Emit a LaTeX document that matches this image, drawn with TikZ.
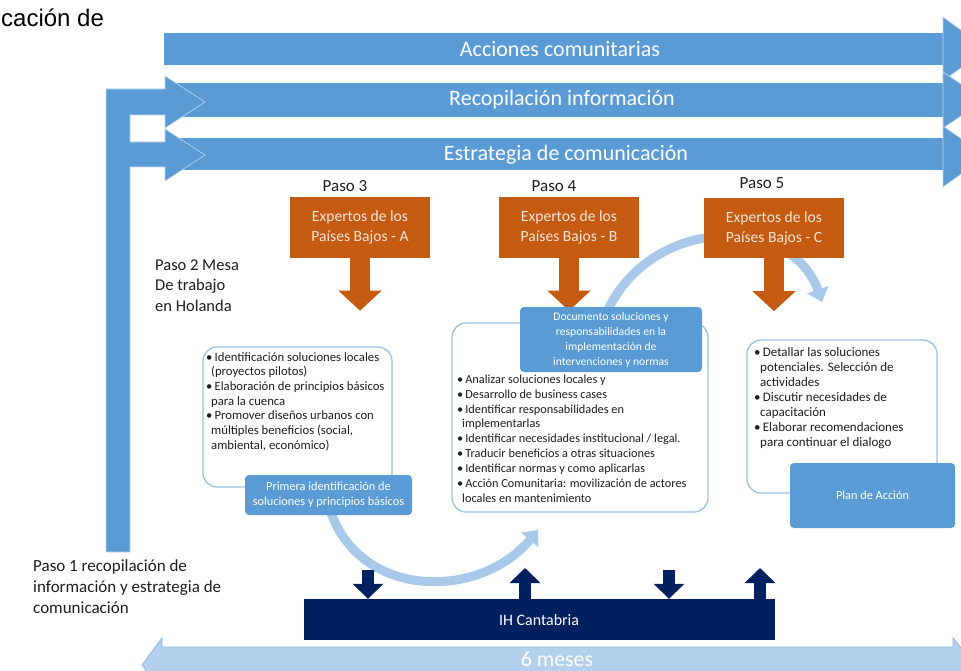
\documentclass[tikz,border=0pt]{standalone}
\usepackage{fontspec}
\setmainfont{Carlito}
\newfontfamily\helv{Liberation Sans}
\usetikzlibrary{arrows.meta}
\definecolor{band}{HTML}{5B9BD5}
\definecolor{orng}{HTML}{C55A11}
\definecolor{navy}{HTML}{002060}
\definecolor{lblue}{HTML}{A9C9EA}
\definecolor{edge}{HTML}{9DC3E6}
\definecolor{txt}{HTML}{1E1E1E}
\definecolor{mes}{HTML}{B4D0EC}
\begin{document}
\begin{tikzpicture}[x=1pt,y=-1pt,
  bandtext/.style={text=white,font=\fontsize{22}{25}\selectfont},
  rbox/.style={draw=edge,line width=1.3pt,fill=white,rounded corners=14pt,inner sep=0pt},
  lbox/.style={fill=band,rounded corners=4pt,text=white,align=center,inner sep=0pt},
  expbox/.style={fill=orng,text=white!85!orng,align=center,inner sep=0pt,minimum width=140pt,minimum height=60pt,font=\fontsize{15.6}{20}\selectfont},
  pasotext/.style={text=txt,font=\fontsize{17}{20}\selectfont},
  oarrow/.style={draw=orng,line width=20pt,-{Triangle[width=42pt,length=20pt]}},
  narrow/.style={draw=navy,line width=12pt,-{Triangle[width=30pt,length=15pt]}},
  curvearrow/.style={draw=lblue,line width=9pt,-{Triangle[width=22pt,length=13pt]}},
  bullets/.style={anchor=north west,align=left,inner sep=0pt,text=txt}]
\useasboundingbox (0,0) rectangle (961,671);
\fill[white] (0,0) rectangle (961,671);

% top cut-off text
\node[anchor=base west,inner sep=0pt,font=\helv\fontsize{24}{28}\selectfont] (cut) at (1,27) {cación de};

% bands
\fill[band] (164,33) rectangle (943,65);
\fill[band] (165,83) rectangle (943,117);
\fill[band] (165,138) rectangle (943,170);
\filldraw[band,draw=white!60!band,line width=0.7pt] (943,17) -- (987,49) -- (943,81) -- cycle;
\filldraw[band,draw=white!60!band,line width=0.7pt] (943,72) -- (985,100) -- (943,128) -- cycle;
\filldraw[band,draw=white!60!band,line width=0.7pt] (943,126) -- (986,156) -- (943,187) -- cycle;
% L-shaped feed arrow
\filldraw[band,draw=white!60!band,line width=0.6pt] (106,552) -- (106,89) -- (165,89) -- (165,76) -- (205,102) -- (165,128) -- (165,115) -- (130,115) -- (130,142) -- (165,142) -- (165,129) -- (205,155) -- (165,181) -- (165,167) -- (130,167) -- (130,552) -- cycle;
\node[bandtext] (b1t) at (560,49) {Acciones comunitarias};
\node[bandtext] (b2t) at (562,100) {Recopilación información};
\node[bandtext] (b3t) at (566,155) {Estrategia de comunicación};

% curved arrows (behind boxes)
\draw[curvearrow] (330,510) .. controls (360,600) and (480,600) .. (538,530);
\draw[curvearrow] (600,330) .. controls (635,215) and (790,210) .. (822,302);

% step labels
\node[pasotext] (p3) at (345,186) {Paso 3};
\node[pasotext] (p4) at (554,186) {Paso 4};
\node[pasotext] (p5) at (762,183) {Paso 5};
\node[anchor=north west,align=left,inner sep=0pt,text=txt,font=\fontsize{16.5}{20.5}\selectfont] (p2) at (155,259.5) {Paso 2 Mesa\\De trabajo\\en Holanda};
\node[anchor=north west,align=left,inner sep=0pt,text=txt,font=\fontsize{17}{21}\selectfont] (p1) at (33,559) {Paso 1 recopilación de\\información y estrategia de\\comunicación};

% rounded content boxes
\node[rbox,minimum width=189pt,minimum height=140pt] (box1) at (297.5,417) {};
\node[rbox,minimum width=256pt,minimum height=189pt] (box2) at (580,417.5) {};
\node[rbox,minimum width=190pt,minimum height=153pt] (box3) at (842,416.5) {};

\node[bullets,font=\fontsize{12.7}{14.7}\selectfont] (t1) at (206,352) {%
\textbullet\,Identificación soluciones locales\\
\hspace*{5pt}(proyectos pilotos)\\
\textbullet\,Elaboración de principios básicos\\
\hspace*{5pt}para la cuenca\\
\textbullet\,Promover diseños urbanos con\\
\hspace*{5pt}múltiples beneficios (social,\\
\hspace*{5pt}ambiental, económico)};

\node[bullets,font=\fontsize{12.3}{14.9}\selectfont] (t2) at (457,374.5) {%
\textbullet\,Analizar soluciones locales y\\
\textbullet\,Desarrollo de business cases\\
\textbullet\,Identificar responsabilidades en\\
\hspace*{5pt}implementarlas\\
\textbullet\,Identificar necesidades institucional / legal.\\
\textbullet\,Traducir beneficios a otras situaciones\\
\textbullet\,Identificar normas y como aplicarlas\\
\textbullet\,Acción Comunitaria: movilización de actores\\
\hspace*{5pt}locales en mantenimiento};

\node[bullets,font=\fontsize{13}{15}\selectfont] (t3) at (754,347) {%
\textbullet\,Detallar las soluciones\\
\hspace*{6pt}potenciales. Selección de\\
\hspace*{6pt}actividades\\
\textbullet\,Discutir necesidades de\\
\hspace*{6pt}capacitación\\
\textbullet\,Elaborar recomendaciones\\
\hspace*{6pt}para continuar el dialogo};

% expert boxes and arrows
\node[expbox] (A) at (360,227.5) {Expertos de los\\Países Bajos - A};
\node[expbox] (B) at (569,227.5) {Expertos de los\\Países Bajos - B};
\node[expbox] (C) at (774,228) {Expertos de los\\Países Bajos - C};
\draw[oarrow] (A.south) -- ++(0,53);
\draw[oarrow] (B.south) -- ++(0,53);
\draw[oarrow] (C.south) -- ++(0,53);

% label boxes
\node[lbox,minimum width=167pt,minimum height=40pt,font=\fontsize{12.3}{15}\selectfont] (prim) at (328.5,495) {Primera identificación de\\soluciones y principios básicos};
\node[lbox,minimum width=182pt,minimum height=65pt,font=\fontsize{11.6}{15}\selectfont] (doc) at (611,339.5) {Documento soluciones y\\responsabilidades en la\\implementación de\\intervenciones y normas};
\node[lbox,minimum width=165pt,minimum height=65pt,font=\fontsize{12.3}{15}\selectfont] (plan) at (872.5,495.5) {Plan de Acción};

% IH Cantabria
\node[fill=navy,minimum width=471pt,minimum height=41pt,inner sep=0pt] (IH) at (539.5,619.5) {};
\node[anchor=west,inner sep=0pt,text=white,font=\fontsize{15.9}{18}\selectfont] (IHt) at (499,620) {IH Cantabria};
\draw[narrow] (368,570) -- (368,0 |- IH.north);
\draw[narrow] (525,0 |- IH.north) -- (525,568);
\draw[narrow] (669,570) -- (669,0 |- IH.north);
\draw[narrow] (760,0 |- IH.north) -- (760,568);

% 6 meses double arrow
\filldraw[fill=mes,draw=edge!80!band,line width=0.8pt] (142,665) -- (162,638) -- (162,647) -- (953,647) -- (953,638) -- (975,665) -- (953,692) -- (953,683) -- (162,683) -- (162,692) -- cycle;
\node[anchor=base,inner sep=0pt,text=white,font=\fontsize{21.8}{24}\selectfont] (meses) at (557,666) {6 meses};
\end{tikzpicture}
\end{document}
